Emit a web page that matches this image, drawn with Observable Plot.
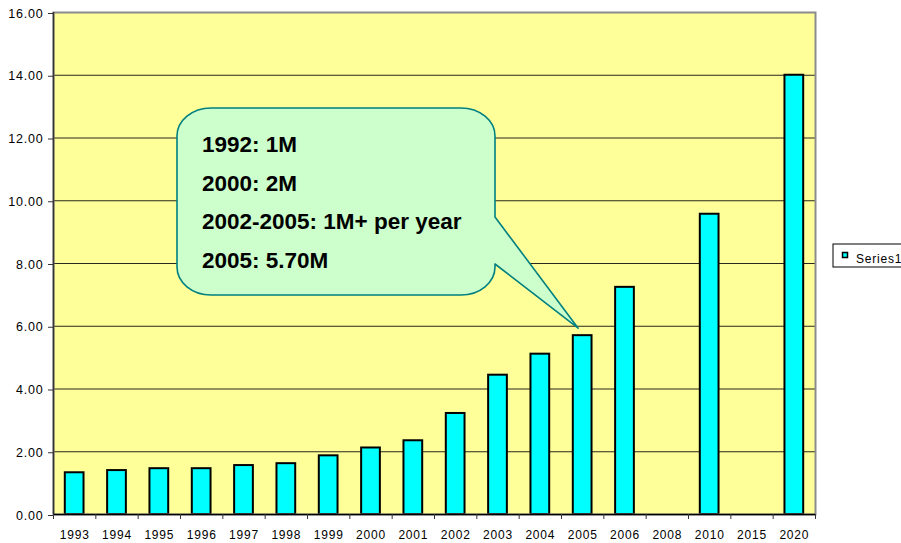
<!DOCTYPE html>
<html><head><meta charset="utf-8">
<script src="https://cdn.jsdelivr.net/npm/d3@7"></script>
<script src="https://cdn.jsdelivr.net/npm/@observablehq/plot@0.6"></script>
<style>
body{margin:0;background:#fff;}
#chart svg{display:block;}
</style></head><body><div id="chart"></div>
<script>
const years = ["1993","1994","1995","1996","1997","1998","1999","2000","2001","2002","2003","2004","2005","2006","2008","2010","2015","2020"];
const values = [1.33,1.40,1.46,1.46,1.56,1.62,1.87,2.12,2.35,3.22,4.44,5.11,5.70,7.24,null,9.57,null,14.0];
const yTickValues = [0,2,4,6,8,10,12,14,16];
const seriesName = "Series1";
const calloutLines = ["1992: 1M","2000: 2M","2002-2005: 1M+ per year","2005: 5.70M"];
const calloutTarget = "2005";

const data = years.map((year, i) => ({year, i, value: values[i]}));
const boundaries = d3.range(years.length + 1);
const centers = years.map((_, i) => i + 0.5);

const chart = Plot.plot({
  width: 901, height: 543,
  marginLeft: 53, marginRight: 86, marginTop: 12, marginBottom: 29,
  style: {fontFamily: "'Liberation Sans', Arial, sans-serif", fontSize: "12px", color: "#000", background: "#fff", letterSpacing: "0.8px", overflow: "visible"},
  x: {type: "linear", domain: [0, years.length], label: null},
  y: {domain: [0, 16], label: null},
  marks: [
    Plot.frame({fill: "#ffff99", stroke: null}),
    Plot.gridY({ticks: yTickValues, stroke: "#111", strokeOpacity: 0.9}),
    Plot.rect(data.filter(d => d.value != null), {
      x1: "i", x2: d => d.i + 1, y1: 0, y2: "value",
      insetLeft: 11.8, insetRight: 11.8,
      fill: "#00ffff", stroke: "#000", strokeWidth: 2
    }),
    Plot.frame({stroke: "#8c8c8c", strokeWidth: 2}),
    Plot.ruleX([0], {stroke: "#333", strokeWidth: 1.5}),
    Plot.ruleY([0], {stroke: "#000", strokeWidth: 1.5}),
    Plot.axisY({ticks: yTickValues, tickSize: 5, tickPadding: 5, tickFormat: d3.format(".2f"), stroke: "#333", fill: "#000", fontSize: 12.5, dy: 1, label: null}),
    Plot.axisX({ticks: boundaries, tickSize: 5, tickFormat: () => "", stroke: "#333", label: null}),
    Plot.axisX({ticks: centers, tickSize: 0, tickPadding: 16, tickFormat: d => years[Math.floor(d)], fill: "#000", fontSize: 12, label: null})
  ]
});
document.getElementById("chart").appendChild(chart);

// Callout annotation
const sx = chart.scale("x"), sy = chart.scale("y");
const ti = years.indexOf(calloutTarget);
const tip = [sx.apply(ti + 0.5) - 4, sy.apply(values[ti]) - 7];
const L = 177, R = 495, T = 108, B = 295, rx = 34, ry = 28;
const pathD = `M${L+rx},${T} H${R-rx} A${rx},${ry} 0 0 1 ${R},${T+ry} V217 L${tip[0]},${tip[1]} L${R},264 V${B-ry} A${rx},${ry} 0 0 1 ${R-rx},${B} H${L+rx} A${rx},${ry} 0 0 1 ${L},${B-ry} V${T+ry} A${rx},${ry} 0 0 1 ${L+rx},${T} Z`;
const svg = d3.select(chart);
const g = svg.append("g").attr("text-anchor", "start");
g.append("path").attr("d", pathD).attr("fill", "#ccffcc").attr("stroke", "#008080").attr("stroke-width", 1.6).attr("stroke-linejoin", "round");
g.selectAll("text").data(calloutLines).join("text")
  .attr("x", 202).attr("y", (d, i) => 152 + i * 38.5)
  .attr("text-anchor", "start")
  .style("font-family", "'Liberation Sans', Arial, sans-serif")
  .style("font-weight", "bold").style("font-size", "22.5px").style("letter-spacing", "0px")
  .attr("fill", "#000").text(d => d);

// Legend
const lg = svg.append("g").attr("text-anchor", "start");
lg.append("rect").attr("x", 833).attr("y", 244).attr("width", 80).attr("height", 23).attr("fill", "#fff").attr("stroke", "#000").attr("stroke-width", 1);
lg.append("rect").attr("x", 842.5).attr("y", 252.5).attr("width", 5).attr("height", 5).attr("fill", "#00ffff").attr("stroke", "#000").attr("stroke-width", 1.5);
lg.append("text").attr("x", 856).attr("y", 263).attr("text-anchor", "start").style("font-size", "12px").attr("fill", "#000").text(seriesName);
</script></body></html>
